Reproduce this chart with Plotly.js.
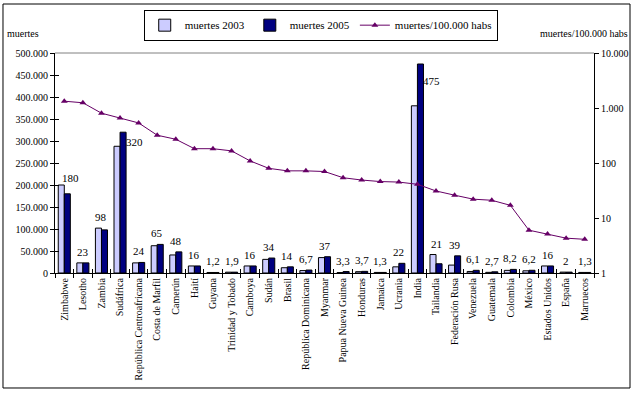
<!DOCTYPE html>
<html>
<head>
<meta charset="utf-8">
<script src="https://cdn.plot.ly/plotly-3.0.1.min.js"></script>
<style>html,body{margin:0;padding:0;background:#fff;}#chart{width:637px;height:393px;}</style>
</head>
<body>
<div id="chart"></div>
<script>
// Countries (categories)
const paises = ["Zimbabwe","Lesotho","Zambia","Sudáfrica","República Centroafricana","Costa de Marfil","Camerún","Haití","Guyana","Trinidad y Tobado","Camboya","Sudán","Brasil","República Dominicana","Myanmar","Papua Nueva Guinea","Honduras","Jamaica","Ucrania","India","Tailandia","Federación Rusa","Venezuela","Guatemala","Colombia","México","Estados Unidos","España","Marruecos"];
// Deaths 2003 (thousands, estimated from bars)
const muertes2003 = [200,23,102,288,23,62,41,16,1.2,1.9,16,31,12,5.5,35,1.0,3.0,1.3,14,380,42,18,3.5,1.5,6,5,16,2,1.3];
// Deaths 2005 (thousands, labelled)
const muertes2005 = [180,23,98,320,24,65,48,16,1.2,1.9,16,34,14,6.7,37,3.3,3.7,1.3,22,475,21,39,6.1,2.7,8.2,6.2,16,2,1.3];
// Deaths per 100.000 inhabitants (right log axis)
const muertesPor100k = [1330,1245,805,655,535,320,270,182,182,166,109,80,72,72,70,54,49,46,45,41,31,26,22,21,17,6.0,5.1,4.3,4.1];

const FONT = "Liberation Serif";
const toAbs = v => v*1000;
const fmt = v => String(v).replace('.', ',');

const traces = [
  {type:'bar', name:'muertes 2003', x:paises, y:muertes2003.map(toAbs),
   marker:{color:'#CCCCFF', line:{color:'#000000', width:1}}, hoverinfo:'skip'},
  {type:'bar', name:'muertes 2005', x:paises, y:muertes2005.map(toAbs),
   marker:{color:'#000080', line:{color:'#000000', width:1}}, hoverinfo:'skip'},
  {type:'scatter', mode:'lines+markers', name:'muertes/100.000 habs', x:paises, y:muertesPor100k,
   yaxis:'y2', line:{color:'#660066', width:1}, marker:{symbol:'triangle-up', size:6, color:'#660066'}, hoverinfo:'skip'},
  // helper trace so the crossing (inside) tick marks are drawn
  {type:'scatter', mode:'none', x:paises, y:paises.map(()=>0), xaxis:'x2', yaxis:'y3', showlegend:false, hoverinfo:'skip'}
];

const annotations = paises.map((p,i) => {
  const top = Math.max(muertes2003[i], muertes2005[i]);
  const a = {x:p, y:toAbs(top), xref:'x', yref:'y', text:fmt(muertes2005[i]),
    showarrow:false, yanchor:'bottom', xanchor:'center', yshift:3, xshift:0,
    font:{size:11, family:FONT, color:'#000'}};
  if (p === 'Sudáfrica') { a.y = toAbs(muertes2005[i]); a.xanchor='left'; a.yanchor='middle'; a.xshift=4; a.yshift=-10; }
  if (p === 'India') { a.y = toAbs(muertes2005[i]); a.xanchor='left'; a.yanchor='middle'; a.xshift=4; a.yshift=-17; }
  if (p === 'Zimbabwe') { a.y = toAbs(muertes2005[i]); a.xshift=6; a.yshift=8; }
  return a;
});
annotations.push({xref:'paper', yref:'paper', x:-0.093, y:1.09, xanchor:'left', yanchor:'middle',
  text:'muertes', showarrow:false, font:{size:10, family:FONT, color:'#000'}});
annotations.push({xref:'paper', yref:'paper', x:1.066, y:1.09, xanchor:'right', yanchor:'middle',
  text:'muertes/100.000 habs', showarrow:false, font:{size:10, family:FONT, color:'#000'}});

const tf = {size:10, family:FONT, color:'#000'};
const layout = {
  width:637, height:393,
  margin:{l:55, r:43, t:53, b:120, autoexpand:false},
  paper_bgcolor:'#fff', plot_bgcolor:'#fff',
  separators:',.',
  font:{family:FONT, size:10, color:'#000'},
  barmode:'group', bargap:0.35, bargroupgap:0,
  showlegend:true,
  legend:{orientation:'h', x:0.493, xanchor:'center', y:1.197, yanchor:'top',
    bordercolor:'#000', borderwidth:1, bgcolor:'#fff', font:{size:11, family:FONT, color:'#000'},
    itemwidth:30, tracegroupgap:0},
  xaxis:{type:'category', range:[-0.5, paises.length-0.5], autorange:false, showline:true, linecolor:'#000', linewidth:1, ticks:'outside', ticklen:4,
    tickson:'boundaries', tickcolor:'#000', tickangle:-90, showgrid:false, zeroline:false,
    tickfont:tf, fixedrange:true, automargin:false},
  xaxis2:{type:'category', overlaying:'x', matches:'x', anchor:'y3', ticks:'inside', ticklen:4,
    tickson:'boundaries', tickcolor:'#000', showticklabels:false, showline:false, showgrid:false,
    zeroline:false, fixedrange:true, automargin:false},
  yaxis:{range:[0,500000], dtick:50000, tickformat:',d', showline:true, linecolor:'#000', linewidth:1,
    ticks:'outside', ticklen:4, tickcolor:'#000', showgrid:false, zeroline:false,
    tickfont:tf, fixedrange:true, automargin:false},
  yaxis3:{range:[0,500000], dtick:50000, overlaying:'y', anchor:'x2', side:'left', ticks:'inside', ticklen:4,
    tickcolor:'#000', showticklabels:false, showline:false, showgrid:false, zeroline:false,
    fixedrange:true, automargin:false},
  yaxis2:{type:'log', range:[0,4], overlaying:'y', side:'right', showline:true, linecolor:'#000', linewidth:1,
    tickvals:[1,10,100,1000,10000], ticktext:['1','10','100','1.000','10.000'],
    ticks:'outside', ticklen:4, tickcolor:'#000', showgrid:false, zeroline:false,
    tickfont:tf, fixedrange:true, automargin:false},
  shapes:[
    {type:'line', xref:'paper', yref:'paper', x0:0, x1:1, y0:1, y1:1, line:{color:'#808080', width:1}},
    {type:'rect', xref:'paper', yref:'paper', x0:-0.0965, x1:1.0668, y0:-0.5227, y1:1.2227,
      line:{color:'#000', width:1}, fillcolor:'rgba(0,0,0,0)'}
  ],
  annotations:annotations
};

Plotly.newPlot('chart', traces, layout, {staticPlot:true, displayModeBar:false});
</script>
</body>
</html>
